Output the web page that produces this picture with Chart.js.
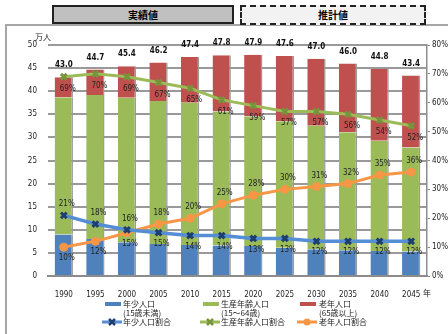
<!DOCTYPE html>
<html>
<head>
<meta charset="utf-8">
<script src="https://cdn.jsdelivr.net/npm/chart.js@4"></script>
<style>
  body { margin: 0; background: #fff; }
  #wrap { position: relative; width: 448px; height: 334px; overflow: hidden; font-family: "Noto Sans CJK JP", sans-serif; }
  #frame { position: absolute; left: 5px; top: 24px; width: 460px; height: 330px; border-top: 2px solid #a6a6a6; border-left: 2px solid #a6a6a6; }
  .hdr { position: absolute; top: 5px; height: 15px; font-size: 10px; font-weight: bold; text-align: center; line-height: 15px; }
  #h1 { left: 52px; width: 178px; background: #c0c0c0; border: 2px solid #222; }
  #h2 { left: 240px; width: 182px; height: 16px; background: #f2f2f2; border: 2px dashed #222; }
  canvas { position: absolute; left: 0; top: 0; }
</style>
</head>
<body>
<div id="wrap">
  <div id="frame"></div>
  <div class="hdr" id="h1">実績値</div>
  <div class="hdr" id="h2">推計値</div>
  <canvas id="miGrafico" width="448" height="334"></canvas>
</div>
<script>
const years = ['1990', '1995', '2000', '2005', '2010', '2015', '2020', '2025', '2030', '2035', '2040', '2045']
const totals = [43.0, 44.7, 45.4, 46.2, 47.4, 47.8, 47.9, 47.6, 47.0, 46.0, 44.8, 43.4]
const youngPop = [9.0, 8.0, 7.3, 6.9, 6.7, 6.6, 6.5, 6.1, 5.8, 5.6, 5.4, 5.3]
const workingPop = [29.7, 31.2, 31.3, 31.0, 30.8, 29.0, 28.0, 27.4, 26.7, 25.5, 23.9, 22.5]
const elderlyPop = totals.map((t, i) => +(t - youngPop[i] - workingPop[i]).toFixed(1))
const youngRatio = [21, 18, 16, 15, 14, 14, 13, 13, 12, 12, 12, 12]
const workingRatio = [69, 70, 69, 67, 65, 61, 59, 57, 57, 56, 54, 52]
const elderlyRatio = [10, 12, 15, 18, 20, 25, 28, 30, 31, 32, 35, 36]
const leftTicks = [0, 5, 10, 15, 20, 25, 30, 35, 40, 45, 50]
const rightTicks = [0, 10, 20, 30, 40, 50, 60, 70, 80]

const azul = '#4f81bd'
const verde = '#9bbb59'
const rojo = '#c0504d'
const naranja = '#f79646'
const txtFont = '"DejaVu Sans Condensed", "DejaVu Sans", sans-serif'
const jpFont = '"Noto Sans CJK JP", sans-serif'

// Etiquetas de datos y leyenda dibujadas a mano
const labelsPlugin = {
  id: 'labels',
  afterDatasetsDraw (chart) {
    const ctx = chart.ctx
    const y = chart.scales.y
    const x = chart.scales.x
    ctx.save()
    ctx.textAlign = 'center'
    ctx.textBaseline = 'middle'
    ctx.fillStyle = '#111'
    ctx.font = 'bold 8px ' + txtFont
    totals.forEach((t, i) => {
      ctx.fillText(t.toFixed(1), x.getPixelForValue(i), y.getPixelForValue(t) - 12)
    })
    ctx.font = '8px ' + txtFont
    ctx.fillStyle = '#222'
    const pY = chart.getDatasetMeta(3).data
    const pW = chart.getDatasetMeta(4).data
    const pE = chart.getDatasetMeta(5).data
    pW.forEach((p, i) => {
      ctx.fillText(workingRatio[i] + '%', p.x + 4, p.y + 12)
    })
    pY.forEach((p, i) => {
      const e = pE[i]
      const youngUp = youngRatio[i] >= elderlyRatio[i]
      const up = youngUp ? p : e
      const down = youngUp ? e : p
      const upTxt = (youngUp ? youngRatio[i] : elderlyRatio[i]) + '%'
      const downTxt = (youngUp ? elderlyRatio[i] : youngRatio[i]) + '%'
      ctx.fillText(upTxt, up.x + 3, up.y - 11)
      ctx.fillText(downTxt, down.x + 3, down.y + 11)
    })
    ctx.restore()
  },
  afterDraw (chart) {
    const ctx = chart.ctx
    ctx.save()
    ctx.fillStyle = '#222'
    ctx.textBaseline = 'middle'
    ctx.font = '8px ' + jpFont
    ctx.textAlign = 'left'
    ctx.fillText('万人', 35, 37)
    ctx.fillText('年', 423, 293)

    const cols = [
      { x: 105, color: azul, mark: '#1f3e6e', t1: '年少人口', t2: '(15歳未満)', t3: '年少人口割合', tx: 123, style: 'crossRot' },
      { x: 203, color: verde, mark: '#77933c', t1: '生産年齢人口', t2: '(15～64歳)', t3: '生産年齢人口割合', tx: 221, style: 'crossRot' },
      { x: 300, color: rojo, mark: naranja, t1: '老年人口', t2: '(65歳以上)', t3: '老年人口割合', tx: 319, style: 'circle' },
    ]
    cols.forEach((c, i) => {
      ctx.fillStyle = c.color
      ctx.fillRect(c.x, 302, 16, 4)
      ctx.fillStyle = '#222'
      ctx.fillText(c.t1, c.tx, 304)
      ctx.fillText(c.t2, c.tx, 313)
      ctx.fillText(c.t3, c.tx, 322)
      const lc = i === 2 ? naranja : (i === 0 ? '#558ed5' : verde)
      ctx.strokeStyle = lc
      ctx.lineWidth = 3
      ctx.beginPath()
      ctx.moveTo(c.x - 3, 322)
      ctx.lineTo(c.x + 17, 322)
      ctx.stroke()
      if (c.style === 'circle') {
        ctx.fillStyle = naranja
        ctx.beginPath()
        ctx.arc(c.x + 7, 322, 3.5, 0, Math.PI * 2)
        ctx.fill()
      } else {
        ctx.strokeStyle = c.mark
        ctx.lineWidth = 2.5
        ctx.beginPath()
        ctx.moveTo(c.x + 4, 319); ctx.lineTo(c.x + 10, 325)
        ctx.moveTo(c.x + 10, 319); ctx.lineTo(c.x + 4, 325)
        ctx.stroke()
      }
    })
    ctx.restore()
  },
}

const barBase = {
  type: 'bar',
  yAxisID: 'y',
  stack: 'pop',
  order: 2,
  borderColor: '#9a9a9a',
  borderWidth: { right: 1.5 },
  borderSkipped: false,
  barPercentage: 0.58,
  categoryPercentage: 1,
}
const lineBase = {
  type: 'line',
  yAxisID: 'y1',
  order: 1,
  borderWidth: 3,
  pointRadius: 4,
  pointBorderWidth: 3,
}

const ctx = document.getElementById('miGrafico').getContext('2d')
const myChart = new Chart(ctx, {
  data: {
    labels: years,
    datasets: [
      { ...barBase, label: '年少人口', data: youngPop, backgroundColor: azul },
      { ...barBase, label: '生産年齢人口', data: workingPop, backgroundColor: verde },
      { ...barBase, label: '老年人口', data: elderlyPop, backgroundColor: rojo },
      { ...lineBase, label: '年少人口割合', data: youngRatio, borderColor: '#558ed5', borderWidth: 3.5, pointStyle: 'crossRot', pointBorderColor: '#1f3e6e', pointBackgroundColor: '#1f3e6e' },
      { ...lineBase, label: '生産年齢人口割合', data: workingRatio, borderColor: verde, pointStyle: 'crossRot', pointBorderColor: '#77933c', pointBackgroundColor: '#77933c' },
      { ...lineBase, label: '老年人口割合', data: elderlyRatio, borderColor: naranja, pointStyle: 'circle', pointBorderColor: naranja, pointBackgroundColor: naranja, pointBorderWidth: 1 },
    ],
  },
  options: {
    responsive: false,
    animation: false,
    layout: { padding: { top: 45, left: 0, right: 0, bottom: 0 } },
    plugins: { legend: { display: false }, tooltip: { enabled: false } },
    scales: {
      x: {
        stacked: true,
        afterFit: (s) => { s.height = 58 },
        grid: { display: false },
        border: { color: '#8c8c8c', width: 2 },
        ticks: { color: '#222', font: { size: 8, family: txtFont }, padding: 6, maxRotation: 0 },
      },
      y: {
        stacked: true,
        min: 0,
        max: 50,
        afterFit: (s) => { s.width = 48 },
        afterBuildTicks: (s) => { s.ticks = leftTicks.map((v) => ({ value: v })) },
        border: { display: false },
        grid: { color: '#999999', lineWidth: 2, drawTicks: false },
        ticks: { color: '#222', font: { size: 8, family: txtFont }, padding: 11 },
      },
      y1: {
        position: 'right',
        min: 0,
        max: 80,
        afterFit: (s) => { s.width = 21 },
        afterBuildTicks: (s) => { s.ticks = rightTicks.map((v) => ({ value: v })) },
        border: { color: '#8c8c8c', width: 1.5 },
        grid: { drawOnChartArea: false, tickLength: 3, color: '#8c8c8c' },
        ticks: { color: '#222', font: { size: 8, family: txtFont }, padding: 2, callback: (v) => v + '%' },
      },
    },
  },
  plugins: [labelsPlugin],
})
</script>
</body>
</html>
